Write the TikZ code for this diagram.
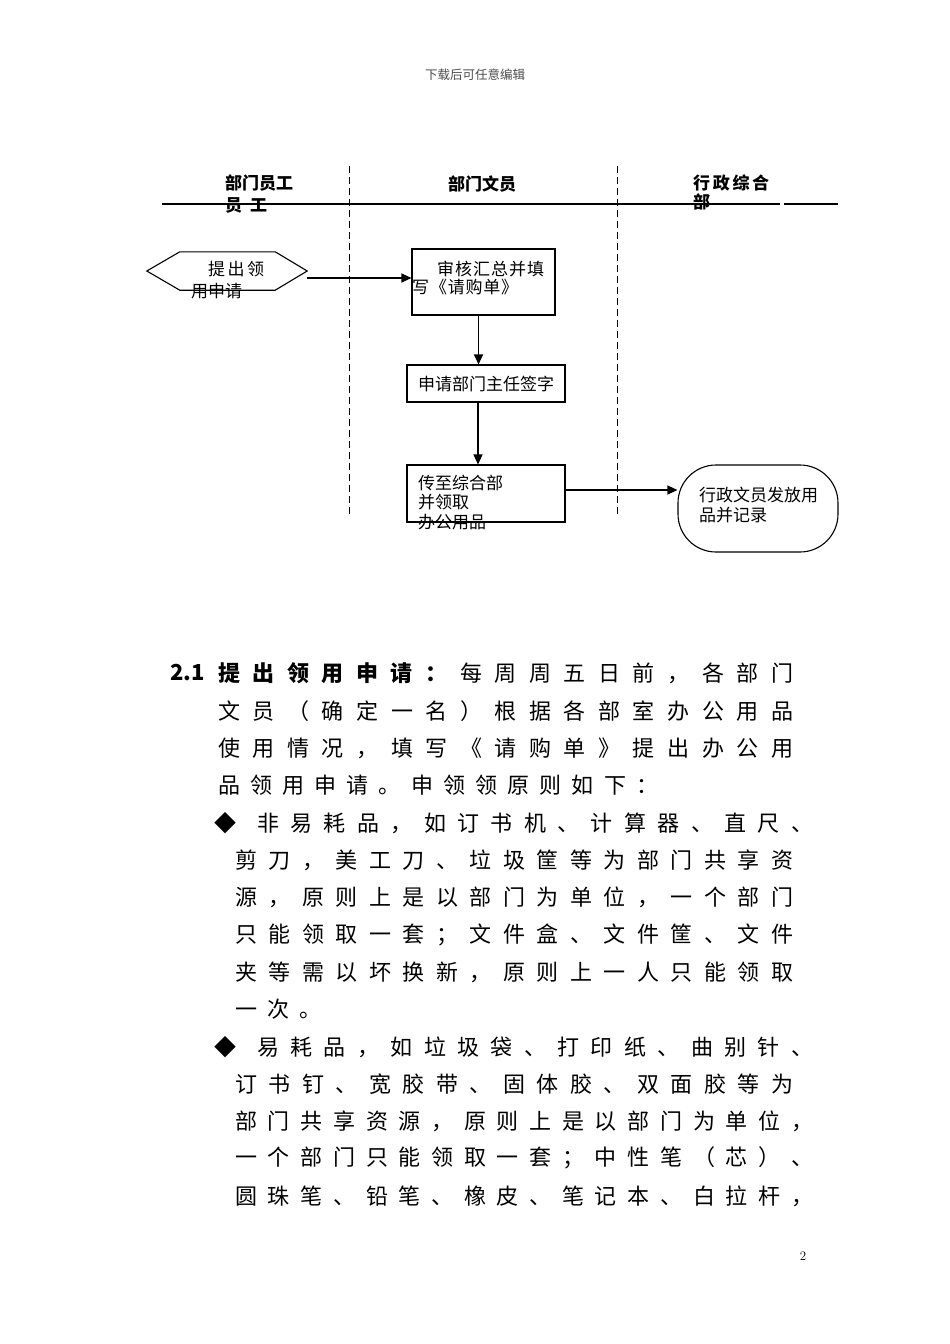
\documentclass[tikz,border=0pt]{standalone}
\usepackage{fontspec}
\newfontfamily\cjk{Noto Sans CJK SC}
\usetikzlibrary{arrows.meta,calc}

% spread the characters of #2 evenly over a box of width #1
\makeatletter
\newcommand\spreadtext[2]{\hbox to #1{\expandafter\spr@item#2\relax}}
\def\spr@item#1{#1\futurelet\spr@next\spr@check}
\def\spr@check{\ifx\spr@next\relax\expandafter\@gobble\else\hfill\expandafter\spr@item\fi}
\makeatother

\tikzset{
  box/.style={draw, line width=1.1pt, inner sep=0},
  lanesep/.style={dash pattern=on 7pt off 4pt, line width=1pt},
  flowarrow/.style={-{Triangle[length=10pt,width=9pt]}, line width=1.1pt},
  flowtext/.style={font=\cjk\fontsize{17}{19.5}\selectfont, inner sep=0},
  headtext/.style={font=\cjk\bfseries\fontsize{17}{20}\selectfont, inner sep=0},
  bodytext/.style={font=\cjk\fontsize{22}{25}\selectfont, inner sep=0, anchor=west},
  bodybold/.style={bodytext, font=\cjk\bfseries\fontsize{22}{25}\selectfont}
}

\begin{document}
\begin{tikzpicture}[x=1pt,y=-1pt]
  \path[fill=white] (0,0) rectangle (950,1344);
  \useasboundingbox (0,0) rectangle (950,1344);

  \node[font=\cjk\fontsize{12.5}{14}\selectfont, text=black!70] (pagehead) at (475,75) {下载后可任意编辑};

  % lanes
  \draw[lanesep] (349,166) -- (349,515);
  \draw[lanesep] (617,166) -- (617,515);
  \draw[line width=1.3pt] (162,204) -- (780,204);
  \draw[line width=1.3pt] (784,204) -- (838,204);
  \node[headtext, anchor=west] (lanea) at (225,183) {部门员工};
  \node[headtext, anchor=west] (laneax) at (225,205) {员\hspace{8pt}工};
  \node[headtext] (laneb) at (482,184) {部门文员};
  \node[headtext, anchor=west] (lanec) at (693,183) {\spreadtext{76pt}{行政综合}};
  \node[headtext, anchor=west] (lanecx) at (693,202) {部};

  % flow
  \node[minimum width=160pt, minimum height=38pt, inner sep=0] (apply) at (227,271) {};
  \draw[line width=1.1pt] (apply.west) -- ([xshift=33pt]apply.north west) -- ([xshift=-32pt]apply.north east)
    -- (apply.east) -- ([xshift=-32pt]apply.south east) -- ([xshift=33pt]apply.south west) -- cycle;
  \node[flowtext, anchor=west] (applya) at (208,269) {\spreadtext{56pt}{提出领}};
  \node[flowtext, anchor=west] (applyb) at (191,291) {用申请};

  \node[box, minimum width=143pt, minimum height=66pt] (review) at (483.5,282) {};
  \node[flowtext, anchor=west] (reviewa) at (437,269) {\spreadtext{107pt}{审核汇总并填}};
  \node[flowtext, anchor=west] (reviewb) at (412,287) {\spreadtext{106pt}{写《请购单》}};

  \node[box, minimum width=158pt, minimum height=37pt] (sign) at (486,383.5) {};
  \node[flowtext] (signt) at (sign) {申请部门主任签字};

  \node[box, minimum width=158pt, minimum height=57pt] (send) at (486,493.5) {};
  \foreach \t [count=\i] in {传至综合部,并领取,办公用品}
    \node[flowtext, anchor=west] (send\i) at (418,{483+19.5*(\i-1)}) {\t};

  \node[box, rounded corners=38pt, minimum width=160pt, minimum height=87pt] (issue) at (758,508.5) {};
  \node[flowtext, anchor=west] (issuea) at (699,495) {行政文员发放用};
  \node[flowtext, anchor=west] (issueb) at (699,515) {品并记录};

  \draw[flowarrow] ([yshift=-7pt]apply.east) -- ([yshift=-7pt]apply.east -| review.west);
  \draw[flowarrow] ([xshift=-5pt]review.south) -- ([xshift=-5pt]review.south |- sign.north);
  \draw[flowarrow] ([xshift=-8pt]sign.south) -- ([xshift=-8pt]sign.south |- send.north);
  \draw[flowarrow] ([yshift=3.5pt]send.east) -- ([yshift=3.5pt]send.east -| issue.west);

  % text below
  \node[bodybold] (num) at (170,673) {2.1};
  \node[bodybold] (titlea) at (218,673) {\spreadtext{229pt}{提出领用申请：}};
  \node[bodytext] (titleb) at (460,673) {\spreadtext{333pt}{每周周五日前，各部门}};
  \node[bodytext, anchor=center] (bula) at (225,823) {◆};
  \node[bodytext, anchor=center] (bulb) at (225,1047) {◆};
  \foreach \bx/\bw/\by/\bt [count=\i] in {
    218/575/711/文员（确定一名）根据各部室办公用品,
    218/575/748/使用情况，填写《请购单》提出办公用,
    218/440/785/品领用申请。申领领原则如下：,
    257/556/823/非易耗品，如订书机、计算器、直尺、,
    235/558/860/剪刀，美工刀、垃圾筐等为部门共享资,
    235/558/897/源，原则上是以部门为单位，一个部门,
    235/558/935/只能领取一套；文件盒、文件筐、文件,
    235/558/972/夹等需以坏换新，原则上一人只能领取,
    235/86/1009/一次。,
    257/556/1047/易耗品，如垃圾袋、打印纸、曲别针、,
    235/558/1084/订书钉、宽胶带、固体胶、双面胶等为,
    235/578/1121/部门共享资源，原则上是以部门为单位，,
    235/578/1158/一个部门只能领取一套；中性笔（芯）、,
    235/578/1196/圆珠笔、铅笔、橡皮、笔记本、白拉杆，}
    \node[bodytext] (line\i) at (\bx,\by) {\spreadtext{\bw pt}{\bt}};

  \node[font=\fontsize{13}{15}\selectfont] (pagenum) at (803,1256) {2};
\end{tikzpicture}
\end{document}
